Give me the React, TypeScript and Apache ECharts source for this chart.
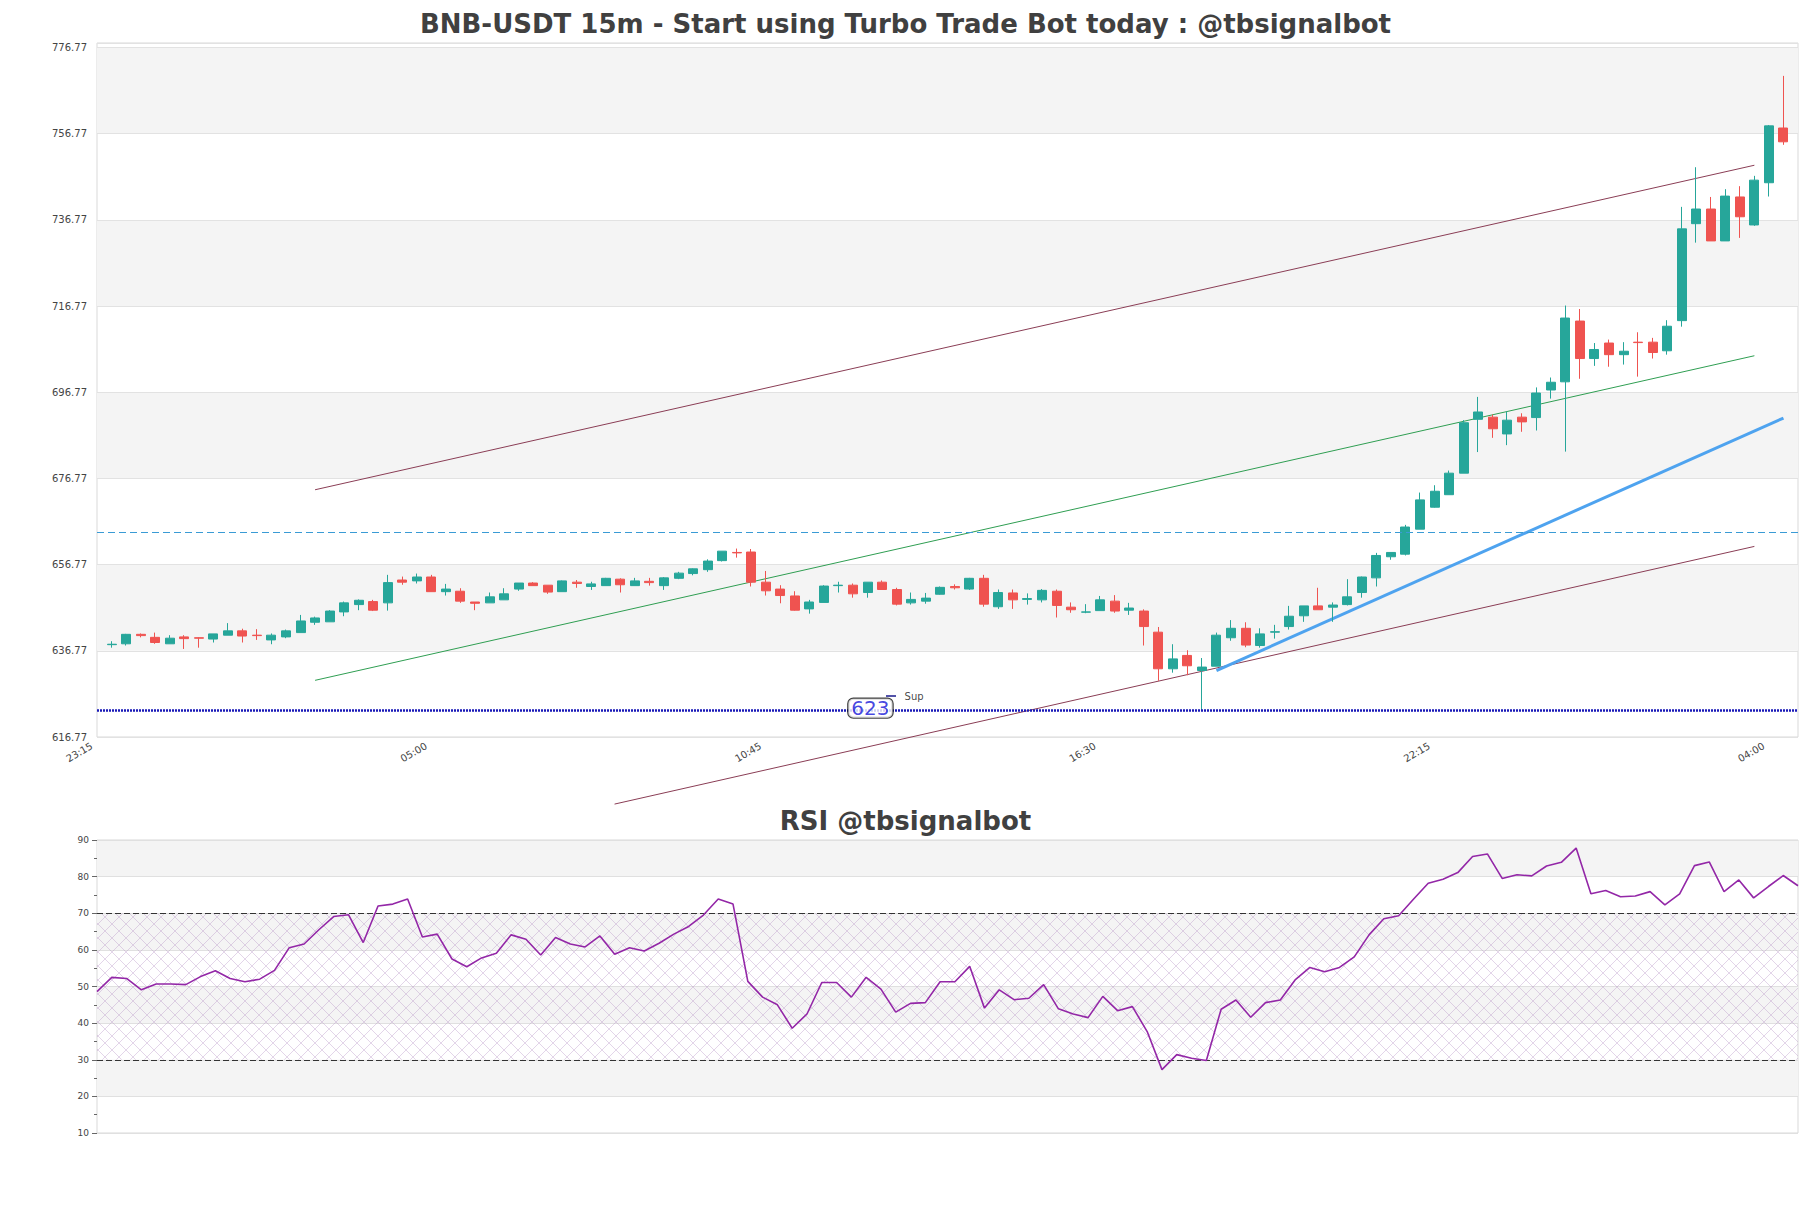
import React, { useEffect, useRef } from 'react';
import * as echarts from 'echarts';

// ---- Data ----
// candles: [open, close, low, high], 15m bars starting 23:30
const candles: number[][] = [
  [638.2, 638.3, 637.5, 639.0], [638.4, 640.6, 638.0, 640.7], [640.6, 640.3, 639.9, 640.8], [639.9, 638.7, 638.4, 641.0],
  [638.4, 639.7, 638.4, 640.4], [640.0, 639.6, 637.2, 640.4], [639.8, 639.7, 637.5, 639.9], [639.5, 640.7, 638.7, 640.7],
  [640.4, 641.4, 640.4, 643.2], [641.4, 640.2, 638.7, 641.9], [640.4, 640.3, 639.3, 641.8], [639.3, 640.4, 638.3, 640.8],
  [640.0, 641.4, 639.7, 641.7], [641.0, 643.7, 641.0, 645.1], [643.4, 644.4, 642.8, 644.7], [643.5, 646.0, 643.5, 646.2],
  [645.8, 647.9, 644.8, 648.2], [647.5, 648.5, 646.2, 648.7], [648.2, 646.2, 646.0, 648.6], [647.9, 652.6, 646.1, 654.4],
  [653.2, 652.7, 652.1, 654.0], [653.0, 653.9, 652.4, 654.7], [653.9, 650.5, 650.5, 654.4], [650.5, 651.1, 649.6, 652.3],
  [650.6, 648.3, 647.9, 651.3], [648.1, 647.8, 646.2, 648.1], [647.9, 649.3, 647.9, 650.3], [648.6, 650.0, 648.6, 651.3],
  [651.1, 652.5, 650.7, 652.5], [652.5, 651.9, 651.9, 652.7], [652.0, 650.4, 650.0, 652.0], [650.5, 653.0, 650.5, 653.1],
  [652.7, 652.4, 651.4, 653.2], [651.7, 652.3, 650.9, 652.8], [651.9, 653.6, 651.9, 653.7], [653.4, 652.1, 650.3, 653.6],
  [651.9, 653.0, 651.9, 653.7], [652.9, 652.6, 651.9, 653.7], [651.9, 653.7, 650.9, 653.9], [653.6, 654.8, 653.4, 655.1],
  [654.7, 655.8, 654.3, 655.9], [655.6, 657.6, 655.1, 658.0], [657.7, 659.9, 657.5, 659.9], [659.6, 659.5, 658.4, 660.5],
  [659.7, 652.7, 651.7, 660.4], [652.7, 650.7, 649.6, 655.3], [651.1, 649.6, 647.8, 652.0], [649.5, 646.2, 646.1, 650.6],
  [646.5, 648.1, 645.4, 648.6], [648.0, 651.8, 648.0, 652.0], [651.9, 652.0, 650.3, 652.8], [652.0, 650.0, 649.1, 652.4],
  [650.3, 652.7, 649.1, 652.7], [652.7, 651.0, 651.0, 653.1], [651.0, 647.6, 647.3, 651.4], [647.9, 648.7, 647.5, 650.3],
  [648.3, 649.0, 647.7, 650.2], [649.9, 651.5, 649.8, 651.7], [651.7, 651.4, 651.0, 652.2], [651.1, 653.6, 650.9, 653.7],
  [653.6, 647.6, 647.0, 654.4], [647.0, 650.3, 646.5, 651.0], [650.2, 648.6, 646.5, 651.0], [648.7, 648.9, 647.5, 650.1],
  [648.6, 650.8, 648.0, 651.1], [650.6, 647.3, 644.5, 651.0], [646.9, 646.3, 645.6, 648.0], [645.75, 645.8, 645.5, 647.6],
  [646.1, 648.6, 646.1, 649.5], [648.3, 646.0, 645.6, 649.7], [646.2, 646.7, 645.1, 647.9], [646.0, 642.4, 638.0, 646.4],
  [641.1, 632.6, 629.8, 642.3], [632.6, 634.9, 631.7, 638.3], [635.7, 633.3, 631.1, 636.9], [632.2, 633.0, 622.9, 635.1],
  [633.2, 640.4, 633.2, 641.0], [639.8, 642.0, 639.1, 643.9], [642.0, 638.1, 637.6, 643.4], [638.0, 640.7, 637.5, 642.0],
  [641.1, 641.2, 639.6, 642.8], [642.4, 644.8, 641.7, 647.2], [644.9, 647.2, 643.5, 647.2], [647.2, 646.3, 646.3, 651.4],
  [646.9, 647.4, 643.5, 648.0], [647.5, 649.3, 647.3, 653.4], [650.3, 653.9, 649.1, 654.0], [653.7, 658.9, 651.7, 659.5],
  [658.6, 659.6, 657.9, 659.6], [659.2, 665.5, 658.9, 666.0], [665.0, 671.8, 665.0, 673.5], [670.1, 673.8, 670.0, 675.2],
  [673.0, 678.0, 673.0, 678.6], [678.0, 689.7, 678.0, 690.3], [690.5, 692.2, 682.9, 695.7], [691.0, 688.3, 686.2, 691.6],
  [687.1, 690.3, 684.5, 692.3], [691.0, 689.9, 687.6, 691.9], [690.9, 696.6, 687.9, 697.9], [697.3, 699.1, 695.3, 700.2],
  [699.2, 714.0, 683.0, 716.9], [713.3, 704.6, 699.9, 716.1], [704.6, 706.7, 702.9, 708.2], [708.2, 705.5, 702.7, 709.0],
  [705.5, 706.3, 703.2, 708.4], [708.4, 708.3, 700.4, 710.7], [708.4, 706.0, 704.6, 709.4], [706.4, 712.1, 705.5, 713.5],
  [713.4, 734.7, 712.0, 739.8], [735.9, 739.3, 731.5, 749.0], [739.3, 731.9, 731.9, 742.1], [731.9, 742.3, 731.9, 743.9],
  [742.1, 737.5, 732.6, 744.6], [735.6, 746.0, 735.4, 747.0], [745.4, 758.6, 742.2, 758.8], [758.1, 754.9, 754.2, 770.2],
];

const rsiValues: number[] = [
  48.6, 52.5, 52.2, 49.1, 50.7, 50.7, 50.5, 52.7, 54.3, 52.2, 51.3, 52.0, 54.4, 60.6, 61.6, 65.5,
  69.1, 69.6, 62.0, 72.0, 72.5, 73.9, 63.5, 64.3, 57.5, 55.4, 57.8, 59.1, 64.1, 62.9, 58.6, 63.4,
  61.6, 60.8, 63.8, 58.8, 60.6, 59.7, 61.8, 64.3, 66.4, 69.5, 73.9, 72.5, 51.4, 47.1, 45.0, 38.6,
  42.5, 51.1, 51.1, 47.1, 52.5, 49.3, 43.0, 45.4, 45.6, 51.3, 51.3, 55.5, 44.1, 49.1, 46.4, 46.8,
  50.5, 43.9, 42.5, 41.5, 47.3, 43.4, 44.5, 37.7, 27.3, 31.4, 30.4, 29.8, 43.8, 46.3, 41.6, 45.6,
  46.3, 51.8, 55.2, 54.0, 55.2, 58.1, 64.1, 68.5, 69.3, 73.8, 78.2, 79.3, 81.1, 85.5, 86.2, 79.5,
  80.5, 80.2, 82.9, 83.9, 87.8, 75.3, 76.2, 74.5, 74.7, 75.9, 72.3, 75.3, 83.0, 84.0, 75.9, 79.1,
  74.2, 77.3, 80.3, 77.5,
];

const axisStart = '23:15';
const slotCount = 118; // one empty slot before and after the candles
const tickLabels = ['23:15', '05:00', '10:45', '16:30', '22:15', '04:00'];
const priceMin = 616.77;
const priceMax = 777.83;
const priceStep = 20;

// trend lines, [slot, price]
const upperChannel: number[][] = [[15, 674.15], [114, 749.46]];
const middleChannel: number[][] = [[15, 629.92], [114, 705.25]];
const lowerChannel: number[][] = [[35.6, 601.2], [114, 661.0]];
const blueTrend: number[][] = [[77, 632.2], [116, 690.8]];
const resistanceLevel = 664.2;
const supportLevel = 623;
const supportLabelSlot = 53.2;
const supTextSlot = 56.2;

const rsiUpper = 70;
const rsiLower = 30;

function buildTimes(start: string, count: number): string[] {
  const [h, m] = start.split(':').map(Number);
  const t0 = h * 60 + m;
  const out: string[] = [];
  for (let i = 0; i < count; i++) {
    const t = (t0 + i * 15) % 1440;
    // slot index prefix keeps the categories unique across the day change
    out.push(i + '|' + String(Math.floor(t / 60)).padStart(2, '0') + ':' + String(t % 60).padStart(2, '0'));
  }
  return out;
}

function makeHatch(): HTMLCanvasElement {
  const c = document.createElement('canvas');
  c.width = 14;
  c.height = 14;
  const ctx = c.getContext('2d')!;
  ctx.strokeStyle = 'rgba(185,150,200,0.5)';
  ctx.lineWidth = 0.8;
  ctx.beginPath();
  ctx.moveTo(-1, -1);
  ctx.lineTo(15, 15);
  ctx.moveTo(15, -1);
  ctx.lineTo(-1, 15);
  ctx.stroke();
  return c;
}

const FONT = 'DejaVu Sans';
const timeOf = (v: string) => String(v).split('|')[1];

export default function App() {
  const ref = useRef<HTMLDivElement>(null);

  useEffect(() => {
    const chart = echarts.init(ref.current!, null, { renderer: 'svg' });
    const categories = buildTimes(axisStart, slotCount);
    const candleData = candles.map((c, i) => [categories[i + 1], c[0], c[1], c[2], c[3]]);
    const rsiCats = rsiValues.map((_, i) => String(i));
    const hatch = makeHatch();

    const lineSeries = (data: number[][], color: string, width: number) => ({
      type: 'line',
      xAxisIndex: 1,
      yAxisIndex: 0,
      data,
      symbol: 'none',
      clip: false,
      silent: true,
      lineStyle: { color, width },
      z: 3,
    });

    const option: any = {
      animation: false,
      backgroundColor: '#ffffff',
      title: [
        {
          text: 'BNB-USDT 15m - Start using Turbo Trade Bot today : @tbsignalbot',
          left: 'center',
          top: 6,
          textStyle: { fontFamily: FONT, fontSize: 26, fontWeight: 'bold', color: '#404040' },
        },
        {
          text: 'RSI @tbsignalbot',
          left: 'center',
          top: 803,
          textStyle: { fontFamily: FONT, fontSize: 26, fontWeight: 'bold', color: '#404040' },
        },
      ],
      grid: [
        { left: 97, top: 43, width: 1701, height: 694, show: true, borderColor: '#d9d9d9', borderWidth: 1, backgroundColor: 'transparent' },
        { left: 97, top: 840, width: 1701, height: 293, show: true, borderColor: '#d9d9d9', borderWidth: 1, backgroundColor: 'transparent' },
      ],
      xAxis: [
        {
          type: 'category',
          gridIndex: 0,
          data: categories,
          boundaryGap: false,
          axisLine: { show: false },
          axisTick: { show: false },
          splitLine: { show: false },
          axisLabel: {
            interval: (idx: number, val: string) => idx % 23 === 0 && tickLabels.includes(timeOf(val)),
            formatter: (val: string) => timeOf(val),
            rotate: 30,
            fontSize: 10,
            fontFamily: FONT,
            color: '#444',
            margin: 5,
            padding: [0, 6, 0, 0],
          },
        },
        { type: 'value', gridIndex: 0, min: 0, max: slotCount - 1, show: false, splitLine: { show: false } },
        {
          type: 'category',
          gridIndex: 1,
          data: rsiCats,
          boundaryGap: false,
          axisLine: { show: false },
          axisTick: { show: false },
          axisLabel: { show: false },
          splitLine: { show: false },
        },
      ],
      yAxis: [
        {
          type: 'value',
          gridIndex: 0,
          min: priceMin,
          max: priceMax,
          interval: priceStep,
          axisLine: { show: false },
          axisTick: { show: false },
          axisLabel: {
            fontSize: 10,
            fontFamily: FONT,
            color: '#444',
            margin: 10,
            showMaxLabel: false,
            formatter: (v: number) => v.toFixed(2),
          },
          splitLine: { lineStyle: { color: '#e2e2e2', width: 1 } },
          splitArea: { show: true, areaStyle: { color: ['rgba(255,255,255,0)', '#f4f4f4'] } },
        },
        {
          type: 'value',
          gridIndex: 1,
          min: 10,
          max: 90,
          interval: 10,
          axisLine: { show: false },
          axisTick: { show: true, length: 5, lineStyle: { color: '#666' } },
          minorTick: { show: true, splitNumber: 2, length: 3, lineStyle: { color: '#666' } },
          minorSplitLine: { show: false },
          axisLabel: { fontSize: 9, fontFamily: FONT, color: '#444', margin: 8 },
          splitLine: { lineStyle: { color: '#e0e0e0', width: 1 } },
          splitArea: { show: true, areaStyle: { color: ['rgba(255,255,255,0)', '#f4f4f4'] } },
        },
      ],
      series: [
        {
          type: 'candlestick',
          xAxisIndex: 0,
          yAxisIndex: 0,
          data: candleData,
          encode: { x: 0, y: [1, 2, 3, 4] },
          barWidth: 9.5,
          silent: true,
          z: 4,
          itemStyle: {
            color: '#26a69a',
            color0: '#ef5350',
            borderColor: '#26a69a',
            borderColor0: '#ef5350',
            borderWidth: 1,
          },
          markLine: {
            silent: true,
            symbol: 'none',
            label: { show: false },
            data: [
              { yAxis: resistanceLevel, lineStyle: { color: '#3a9bd5', type: [7, 4], width: 1.2 } },
              { yAxis: supportLevel, lineStyle: { color: '#1a1ab8', type: [2, 1], width: 2.5 } },
            ],
          },
        },
        lineSeries(upperChannel, '#8a3d55', 1),
        lineSeries(middleChannel, '#2f9e52', 1),
        lineSeries(lowerChannel, '#8a3d55', 1),
        lineSeries(blueTrend, '#4ea3ef', 3),
        {
          type: 'scatter',
          xAxisIndex: 1,
          yAxisIndex: 0,
          symbolSize: 1,
          itemStyle: { color: 'rgba(0,0,0,0)' },
          silent: true,
          z: 6,
          data: [
            {
              value: [supportLabelSlot, supportLevel],
              label: {
                show: true,
                position: 'inside',
                formatter: String(supportLevel),
                color: '#1515d8',
                fontSize: 20,
                fontFamily: FONT,
                backgroundColor: '#ffffff',
                borderColor: '#111',
                borderWidth: 1.2,
                borderRadius: 5,
                padding: [0, 3],
                lineHeight: 19,
                offset: [0, -2],
              },
            },
            {
              value: [supTextSlot, supportLevel],
              label: {
                show: true,
                position: 'inside',
                formatter: 'Sup',
                color: '#111',
                fontSize: 10,
                fontFamily: FONT,
                offset: [0, -14],
              },
            },
          ],
        },
        {
          type: 'line',
          xAxisIndex: 2,
          yAxisIndex: 1,
          data: rsiValues,
          symbol: 'none',
          silent: true,
          z: 5,
          lineStyle: { color: '#9327a7', width: 1.6 },
          markArea: {
            silent: true,
            itemStyle: { color: { image: hatch, repeat: 'repeat', imageWidth: 14, imageHeight: 14 }, opacity: 1 },
            data: [[{ yAxis: rsiLower }, { yAxis: rsiUpper }]],
          },
          markLine: {
            silent: true,
            symbol: 'none',
            label: { show: false },
            lineStyle: { color: '#333', type: [6, 3], width: 1.2 },
            data: [{ yAxis: rsiUpper }, { yAxis: rsiLower }],
          },
        },
      ],
      graphic: [
        {
          type: 'line',
          shape: { x1: 886, y1: 696, x2: 896, y2: 696 },
          style: { stroke: '#1a1a8c', lineWidth: 1.5 },
          silent: true,
          z: 10,
        },
      ],
    };

    chart.setOption(option);
    return () => chart.dispose();
  }, []);

  return (
    <div
      ref={ref}
      style={{ position: 'absolute', left: 0, top: 0, width: 1811, height: 1208, background: '#ffffff' }}
    />
  );
}
